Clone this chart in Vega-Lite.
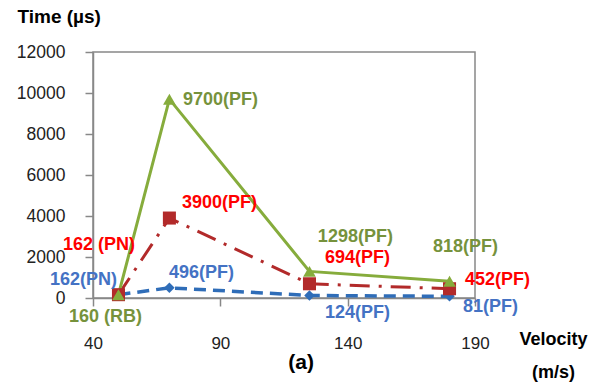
{
  "$schema": "https://vega.github.io/schema/vega-lite/v6.json",
  "autosize": "none",
  "width": 382,
  "height": 246,
  "padding": {"left": 93, "top": 52, "right": 123, "bottom": 87},
  "background": "white",
  "config": {
    "font": "Liberation Sans",
    "view": {"stroke": "#888888", "strokeWidth": 1.5}
  },
  "datasets": {
    "pts": [
      {"series": "green", "velocity": 50, "time": 160},
      {"series": "green", "velocity": 70, "time": 9700},
      {"series": "green", "velocity": 125, "time": 1298},
      {"series": "green", "velocity": 180, "time": 818},
      {"series": "red", "velocity": 50, "time": 162},
      {"series": "red", "velocity": 70, "time": 3900},
      {"series": "red", "velocity": 125, "time": 694},
      {"series": "red", "velocity": 180, "time": 452},
      {"series": "blue", "velocity": 50, "time": 162},
      {"series": "blue", "velocity": 70, "time": 496},
      {"series": "blue", "velocity": 125, "time": 124},
      {"series": "blue", "velocity": 180, "time": 81}
    ],
    "labels": [
      {"series": "green", "lx": 75.3, "ly": 9660, "text": "9700(PF)"},
      {"series": "red", "lx": 74.9, "ly": 4634, "text": "3900(PF)"},
      {"series": "red", "lx": 28.2, "ly": 2585, "text": "162 (PN)"},
      {"series": "blue", "lx": 23.1, "ly": 878, "text": "162(PN)"},
      {"series": "green", "lx": 30.6, "ly": -927, "text": "160 (RB)"},
      {"series": "blue", "lx": 69.8, "ly": 1220, "text": "496(PF)"},
      {"series": "green", "lx": 128.3, "ly": 2976, "text": "1298(PF)"},
      {"series": "red", "lx": 131.1, "ly": 1951, "text": "694(PF)"},
      {"series": "blue", "lx": 131.1, "ly": -732, "text": "124(PF)"},
      {"series": "green", "lx": 173.5, "ly": 2488, "text": "818(PF)"},
      {"series": "red", "lx": 186.1, "ly": 878, "text": "452(PF)"},
      {"series": "blue", "lx": 185.3, "ly": -439, "text": "81(PF)"}
    ],
    "caption": [
      {"lx": 121.7, "ly": -3170, "text": "(a)"}
    ]
  },
  "layer": [
    {
      "data": {"name": "pts"},
      "transform": [{"filter": "datum.series === 'red'"}],
      "mark": {"type": "line", "color": "#B22A2A", "strokeWidth": 3, "strokeDash": [20, 9, 3, 9]},
      "encoding": {
        "x": {"field": "velocity", "type": "quantitative", "scale": {"domain": [40, 190], "nice": false, "zero": false},
          "axis": {"values": [40, 90, 140, 190], "grid": false, "domainColor": "#888888", "domainWidth": 1.5, "tickColor": "#888888", "tickSize": 8, "tickWidth": 1.5,
            "labelFontSize": 17, "labelColor": "#222222", "labelPadding": 29, "labelFlush": false,
            "title": ["Velocity", "(m/s)"], "titleFontSize": 18, "titleFontWeight": "bold", "titleColor": "#000000",
            "titleX": 460, "titleY": 32, "titleBaseline": "top", "titleAlign": "center", "titleLineHeight": 33, "titleAnchor": null}},
        "y": {"field": "time", "type": "quantitative", "scale": {"domain": [0, 12000], "nice": false},
          "axis": {"values": [0, 2000, 4000, 6000, 8000, 10000, 12000], "grid": false, "domainColor": "#888888", "domainWidth": 1.5, "tickColor": "#888888", "tickSize": 8, "tickWidth": 1.5,
            "labelFontSize": 17.5, "labelColor": "#222222", "labelPadding": 20, "format": "d",
            "title": "Time (µs)", "titleFontSize": 19, "titleFontWeight": "bold", "titleColor": "#000000",
            "titleAngle": 0, "titleX": -76, "titleY": -36, "titleAlign": "left", "titleBaseline": "middle"}}
      }
    },
    {
      "data": {"name": "pts"},
      "transform": [{"filter": "datum.series === 'blue'"}],
      "mark": {"type": "line", "color": "#2F6DB8", "strokeWidth": 3.5, "strokeDash": [12, 7]},
      "encoding": {
        "x": {"field": "velocity", "type": "quantitative"},
        "y": {"field": "time", "type": "quantitative"}
      }
    },
    {
      "data": {"name": "pts"},
      "transform": [{"filter": "datum.series === 'green'"}],
      "mark": {"type": "line", "color": "#86AC3C", "strokeWidth": 3},
      "encoding": {
        "x": {"field": "velocity", "type": "quantitative"},
        "y": {"field": "time", "type": "quantitative"}
      }
    },
    {
      "data": {"name": "pts"},
      "transform": [{"filter": "datum.series === 'blue'"}],
      "mark": {"type": "point", "shape": "diamond", "filled": true, "color": "#2F6DB8", "size": 110, "opacity": 1},
      "encoding": {
        "x": {"field": "velocity", "type": "quantitative"},
        "y": {"field": "time", "type": "quantitative"}
      }
    },
    {
      "data": {"name": "pts"},
      "transform": [{"filter": "datum.series === 'red'"}],
      "mark": {"type": "point", "shape": "square", "filled": true, "color": "#B22A2A", "size": 170, "opacity": 1},
      "encoding": {
        "x": {"field": "velocity", "type": "quantitative"},
        "y": {"field": "time", "type": "quantitative"}
      }
    },
    {
      "data": {"name": "pts"},
      "transform": [{"filter": "datum.series === 'green'"}],
      "mark": {"type": "point", "shape": "triangle-up", "filled": true, "color": "#86AC3C", "size": 160, "opacity": 1},
      "encoding": {
        "x": {"field": "velocity", "type": "quantitative"},
        "y": {"field": "time", "type": "quantitative"}
      }
    },
    {
      "data": {"name": "labels"},
      "mark": {"type": "text", "align": "left", "baseline": "middle", "fontSize": 18, "fontWeight": "bold", "clip": false},
      "encoding": {
        "x": {"field": "lx", "type": "quantitative"},
        "y": {"field": "ly", "type": "quantitative"},
        "text": {"field": "text"},
        "color": {"field": "series", "type": "nominal", "legend": null,
          "scale": {"domain": ["green", "red", "blue"], "range": ["#76923C", "#FF0000", "#4472C4"]}}
      }
    },
    {
      "data": {"name": "caption"},
      "mark": {"type": "text", "align": "center", "baseline": "middle", "fontSize": 21, "fontWeight": "bold", "color": "#000000", "clip": false},
      "encoding": {
        "x": {"field": "lx", "type": "quantitative"},
        "y": {"field": "ly", "type": "quantitative"},
        "text": {"field": "text"}
      }
    }
  ]
}
